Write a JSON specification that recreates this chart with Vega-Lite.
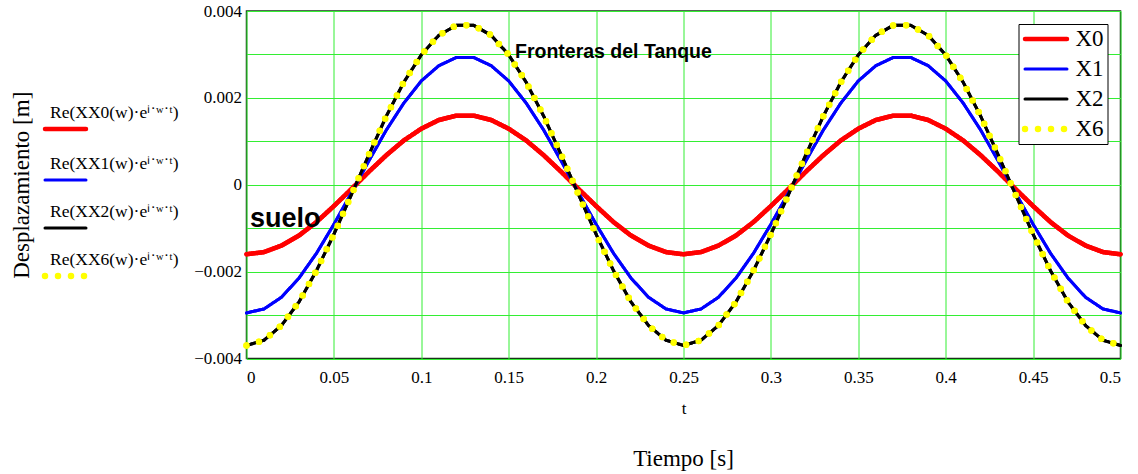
{
  "$schema": "https://vega.github.io/schema/vega-lite/v6.json",
  "width": 874,
  "height": 347.5,
  "autosize": "none",
  "padding": {"left": 246.5, "top": 11, "right": 17.5, "bottom": 115.5},
  "background": "white",
  "config": {
    "view": {"stroke": "#1a331a", "strokeWidth": 1.5},
    "axis": {"labelFont": "Liberation Serif", "labelFontSize": 17, "labelColor": "black", "titleFont": "Liberation Serif", "titleColor": "black", "titleFontWeight": "normal", "gridColor": "#33ee33", "gridOpacity": 1, "gridWidth": 1, "domain": false, "ticks": false}
  },
  "title": {"text": "Tiempo [s]", "orient": "bottom", "frame": "group", "anchor": "middle", "font": "Liberation Serif", "fontSize": 23, "fontWeight": "normal", "color": "black", "offset": 31},
  "datasets": {"desplazamientos": [
    {"t": 0.00, "X0": -0.0016, "X1": -0.00295, "X2": -0.0037, "X6": -0.0037},
    {"t": 0.01, "X0": -0.00155, "X1": -0.00286, "X2": -0.00358, "X6": -0.00358},
    {"t": 0.02, "X0": -0.0014, "X1": -0.00259, "X2": -0.00324, "X6": -0.00324},
    {"t": 0.03, "X0": -0.00117, "X1": -0.00215, "X2": -0.0027, "X6": -0.0027},
    {"t": 0.04, "X0": -0.00086, "X1": -0.00158, "X2": -0.00198, "X6": -0.00198},
    {"t": 0.05, "X0": -0.00049, "X1": -0.00091, "X2": -0.00114, "X6": -0.00114},
    {"t": 0.06, "X0": -0.0001, "X1": -0.00019, "X2": -0.00023, "X6": -0.00023},
    {"t": 0.07, "X0": 0.0003, "X1": 0.00055, "X2": 0.00069, "X6": 0.00069},
    {"t": 0.08, "X0": 0.00068, "X1": 0.00126, "X2": 0.00158, "X6": 0.00158},
    {"t": 0.09, "X0": 0.00102, "X1": 0.00188, "X2": 0.00236, "X6": 0.00236},
    {"t": 0.10, "X0": 0.00129, "X1": 0.00239, "X2": 0.00299, "X6": 0.00299},
    {"t": 0.11, "X0": 0.00149, "X1": 0.00274, "X2": 0.00344, "X6": 0.00344},
    {"t": 0.12, "X0": 0.00159, "X1": 0.00293, "X2": 0.00367, "X6": 0.00367},
    {"t": 0.13, "X0": 0.00159, "X1": 0.00293, "X2": 0.00367, "X6": 0.00367},
    {"t": 0.14, "X0": 0.00149, "X1": 0.00274, "X2": 0.00344, "X6": 0.00344},
    {"t": 0.15, "X0": 0.00129, "X1": 0.00239, "X2": 0.00299, "X6": 0.00299},
    {"t": 0.16, "X0": 0.00102, "X1": 0.00188, "X2": 0.00236, "X6": 0.00236},
    {"t": 0.17, "X0": 0.00068, "X1": 0.00126, "X2": 0.00158, "X6": 0.00158},
    {"t": 0.18, "X0": 0.0003, "X1": 0.00055, "X2": 0.00069, "X6": 0.00069},
    {"t": 0.19, "X0": -0.0001, "X1": -0.00019, "X2": -0.00023, "X6": -0.00023},
    {"t": 0.20, "X0": -0.00049, "X1": -0.00091, "X2": -0.00114, "X6": -0.00114},
    {"t": 0.21, "X0": -0.00086, "X1": -0.00158, "X2": -0.00198, "X6": -0.00198},
    {"t": 0.22, "X0": -0.00117, "X1": -0.00215, "X2": -0.0027, "X6": -0.0027},
    {"t": 0.23, "X0": -0.0014, "X1": -0.00259, "X2": -0.00324, "X6": -0.00324},
    {"t": 0.24, "X0": -0.00155, "X1": -0.00286, "X2": -0.00358, "X6": -0.00358},
    {"t": 0.25, "X0": -0.0016, "X1": -0.00295, "X2": -0.0037, "X6": -0.0037},
    {"t": 0.26, "X0": -0.00155, "X1": -0.00286, "X2": -0.00358, "X6": -0.00358},
    {"t": 0.27, "X0": -0.0014, "X1": -0.00259, "X2": -0.00324, "X6": -0.00324},
    {"t": 0.28, "X0": -0.00117, "X1": -0.00215, "X2": -0.0027, "X6": -0.0027},
    {"t": 0.29, "X0": -0.00086, "X1": -0.00158, "X2": -0.00198, "X6": -0.00198},
    {"t": 0.30, "X0": -0.00049, "X1": -0.00091, "X2": -0.00114, "X6": -0.00114},
    {"t": 0.31, "X0": -0.0001, "X1": -0.00019, "X2": -0.00023, "X6": -0.00023},
    {"t": 0.32, "X0": 0.0003, "X1": 0.00055, "X2": 0.00069, "X6": 0.00069},
    {"t": 0.33, "X0": 0.00068, "X1": 0.00126, "X2": 0.00158, "X6": 0.00158},
    {"t": 0.34, "X0": 0.00102, "X1": 0.00188, "X2": 0.00236, "X6": 0.00236},
    {"t": 0.35, "X0": 0.00129, "X1": 0.00239, "X2": 0.00299, "X6": 0.00299},
    {"t": 0.36, "X0": 0.00149, "X1": 0.00274, "X2": 0.00344, "X6": 0.00344},
    {"t": 0.37, "X0": 0.00159, "X1": 0.00293, "X2": 0.00367, "X6": 0.00367},
    {"t": 0.38, "X0": 0.00159, "X1": 0.00293, "X2": 0.00367, "X6": 0.00367},
    {"t": 0.39, "X0": 0.00149, "X1": 0.00274, "X2": 0.00344, "X6": 0.00344},
    {"t": 0.40, "X0": 0.00129, "X1": 0.00239, "X2": 0.00299, "X6": 0.00299},
    {"t": 0.41, "X0": 0.00102, "X1": 0.00188, "X2": 0.00236, "X6": 0.00236},
    {"t": 0.42, "X0": 0.00068, "X1": 0.00126, "X2": 0.00158, "X6": 0.00158},
    {"t": 0.43, "X0": 0.0003, "X1": 0.00055, "X2": 0.00069, "X6": 0.00069},
    {"t": 0.44, "X0": -0.0001, "X1": -0.00019, "X2": -0.00023, "X6": -0.00023},
    {"t": 0.45, "X0": -0.00049, "X1": -0.00091, "X2": -0.00114, "X6": -0.00114},
    {"t": 0.46, "X0": -0.00086, "X1": -0.00158, "X2": -0.00198, "X6": -0.00198},
    {"t": 0.47, "X0": -0.00117, "X1": -0.00215, "X2": -0.0027, "X6": -0.0027},
    {"t": 0.48, "X0": -0.0014, "X1": -0.00259, "X2": -0.00324, "X6": -0.00324},
    {"t": 0.49, "X0": -0.00155, "X1": -0.00286, "X2": -0.00358, "X6": -0.00358},
    {"t": 0.50, "X0": -0.0016, "X1": -0.00295, "X2": -0.0037, "X6": -0.0037}
  ]},
  "layer": [
    {
      "data": {"name": "desplazamientos"},
      "transform": [{"fold": ["X0", "X1", "X2", "X6"], "as": ["serie", "y"]}],
      "mark": {"type": "line", "strokeCap": "round", "strokeJoin": "round"},
      "encoding": {
        "x": {"field": "t", "type": "quantitative", "scale": {"domain": [0, 0.5], "nice": false},
          "axis": {"values": [0, 0.05, 0.1, 0.15, 0.2, 0.25, 0.3, 0.35, 0.4, 0.45, 0.5], "format": ".2~f", "labelPadding": 11, "title": "t", "titleFontSize": 17, "titlePadding": 15}},
        "y": {"field": "y", "type": "quantitative", "scale": {"domain": [-0.004, 0.004], "nice": false, "zero": false},
          "axis": {"values": [-0.004, -0.003, -0.002, -0.001, 0, 0.001, 0.002, 0.003, 0.004], "format": ".3~f", "labelExpr": "round(datum.value*1000) % 2 == 0 ? datum.label : ''", "labelPadding": 5, "title": "Desplazamiento [m]", "titleFontSize": 23, "titlePadding": 160}},
        "color": {"field": "serie", "type": "nominal", "scale": {"domain": ["X0", "X1", "X2", "X6"], "range": ["#ff0000", "#0000ff", "#000000", "#ffff00"]},
          "legend": {"title": null, "orient": "top-right", "offset": 13, "strokeColor": "black", "fillColor": "white", "padding": 3, "symbolType": "stroke", "symbolSize": 1764, "clipHeight": 24, "rowPadding": 6, "symbolOffset": 0, "labelOffset": 5, "labelFont": "Liberation Serif", "labelFontSize": 23, "labelColor": "black", "encode": {"symbols": {"update": {"strokeCap": {"value": "round"}}}}}},
        "strokeWidth": {"field": "serie", "type": "nominal", "scale": {"type": "ordinal", "domain": ["X0", "X1", "X2", "X6"], "range": [4.5, 3, 3, 6.5]},
          "legend": {"title": null, "orient": "top-right", "offset": 13, "strokeColor": "black", "fillColor": "white", "padding": 3, "symbolType": "stroke", "symbolSize": 1764, "clipHeight": 24, "rowPadding": 6, "symbolOffset": 0, "labelOffset": 5, "labelFont": "Liberation Serif", "labelFontSize": 23, "labelColor": "black", "encode": {"symbols": {"update": {"strokeCap": {"value": "round"}}}}}},
        "strokeDash": {"field": "serie", "type": "nominal", "scale": {"domain": ["X0", "X1", "X2", "X6"], "range": [[1, 0], [1, 0], [1, 0], [0, 13]]},
          "legend": {"title": null, "orient": "top-right", "offset": 13, "strokeColor": "black", "fillColor": "white", "padding": 3, "symbolType": "stroke", "symbolSize": 1764, "clipHeight": 24, "rowPadding": 6, "symbolOffset": 0, "labelOffset": 5, "labelFont": "Liberation Serif", "labelFontSize": 23, "labelColor": "black", "encode": {"symbols": {"update": {"strokeCap": {"value": "round"}}}}}}
      }
    },
    {
      "data": {"name": "desplazamientos"},
      "transform": [{"fold": ["X0", "X1", "X2", "X6"], "as": ["serie", "y"]}],
      "mark": {"type": "line", "strokeCap": "round", "strokeJoin": "round"},
      "encoding": {
        "x": {"field": "t", "type": "quantitative", "scale": {"domain": [0, 0.5], "nice": false},
          "axis": {"values": [0, 0.05, 0.1, 0.15, 0.2, 0.25, 0.3, 0.35, 0.4, 0.45, 0.5], "format": ".2~f", "labelPadding": 11, "title": "t", "titleFontSize": 17, "titlePadding": 15}},
        "y": {"field": "y", "type": "quantitative", "scale": {"domain": [-0.004, 0.004], "nice": false, "zero": false},
          "axis": {"values": [-0.004, -0.003, -0.002, -0.001, 0, 0.001, 0.002, 0.003, 0.004], "format": ".3~f", "labelExpr": "round(datum.value*1000) % 2 == 0 ? datum.label : ''", "labelPadding": 5, "title": "Desplazamiento [m]", "titleFontSize": 23, "titlePadding": 160}},
        "color": {"field": "serie", "type": "nominal", "scale": {"domain": ["X0", "X1", "X2", "X6"], "range": ["#ff0000", "#0000ff", "#000000", "#ffff00"]},
          "legend": {"title": null, "orient": "none", "legendX": -205, "legendY": 95, "padding": 0, "symbolType": "stroke", "symbolSize": 1681, "rowPadding": 17, "labelOffset": -39.5, "labelLimit": 400, "labelFont": "Liberation Serif", "labelFontSize": 17.5, "labelColor": "black", "labelBaseline": "alphabetic", "labelExpr": "'Re(X' + datum.label + '(w)·eⁱ˙ʷ˙ᵗ)'", "encode": {"symbols": {"update": {"strokeCap": {"value": "round"}}}, "labels": {"update": {"dy": {"value": -11}}}}}},
        "strokeWidth": {"field": "serie", "type": "nominal", "scale": {"type": "ordinal", "domain": ["X0", "X1", "X2", "X6"], "range": [4.5, 3, 3, 6.5]},
          "legend": {"title": null, "orient": "none", "legendX": -205, "legendY": 95, "padding": 0, "symbolType": "stroke", "symbolSize": 1681, "rowPadding": 17, "labelOffset": -39.5, "labelLimit": 400, "labelFont": "Liberation Serif", "labelFontSize": 17.5, "labelColor": "black", "labelBaseline": "alphabetic", "labelExpr": "'Re(X' + datum.label + '(w)·eⁱ˙ʷ˙ᵗ)'", "encode": {"symbols": {"update": {"strokeCap": {"value": "round"}}}, "labels": {"update": {"dy": {"value": -11}}}}}},
        "strokeDash": {"field": "serie", "type": "nominal", "scale": {"domain": ["X0", "X1", "X2", "X6"], "range": [[1, 0], [1, 0], [1, 0], [0, 13]]},
          "legend": {"title": null, "orient": "none", "legendX": -205, "legendY": 95, "padding": 0, "symbolType": "stroke", "symbolSize": 1681, "rowPadding": 17, "labelOffset": -39.5, "labelLimit": 400, "labelFont": "Liberation Serif", "labelFontSize": 17.5, "labelColor": "black", "labelBaseline": "alphabetic", "labelExpr": "'Re(X' + datum.label + '(w)·eⁱ˙ʷ˙ᵗ)'", "encode": {"symbols": {"update": {"strokeCap": {"value": "round"}}}, "labels": {"update": {"dy": {"value": -11}}}}}}
      }
    },
    {
      "data": {"values": [{"label": "Fronteras del Tanque"}]},
      "mark": {"type": "text", "font": "Liberation Sans", "fontWeight": "bold", "fontSize": 19.5, "align": "left", "baseline": "alphabetic", "color": "black"},
      "encoding": {"x": {"datum": 0.1536}, "y": {"datum": 0.00292}, "text": {"field": "label"}}
    },
    {
      "data": {"values": [{"label": "suelo"}]},
      "mark": {"type": "text", "font": "Liberation Sans", "fontWeight": "bold", "fontSize": 27, "align": "left", "baseline": "alphabetic", "color": "black"},
      "encoding": {"x": {"datum": 0.002}, "y": {"datum": -0.00097}, "text": {"field": "label"}}
    }
  ],
  "resolve": {
    "scale": {"color": "independent", "strokeWidth": "independent", "strokeDash": "independent"},
    "legend": {"color": "independent", "strokeWidth": "independent", "strokeDash": "independent"}
  }
}
